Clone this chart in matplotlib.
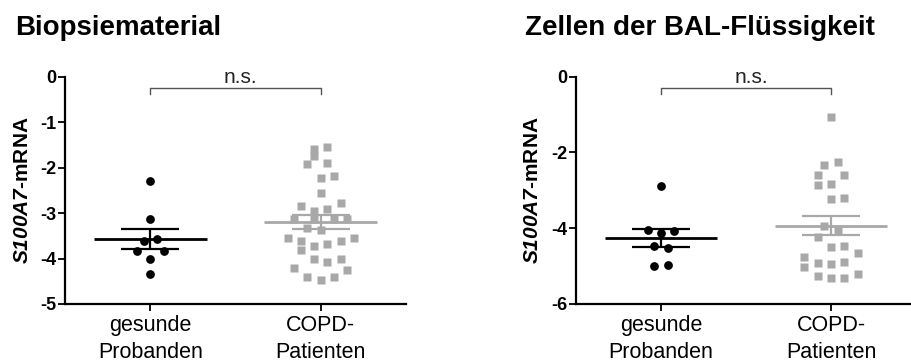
import numpy as np
import matplotlib
matplotlib.use("Agg")
import matplotlib.pyplot as plt

plt.rcParams.update({
    "font.family": "Liberation Sans",
    "axes.unicode_minus": False,
    "mathtext.fontset": "custom",
    "mathtext.rm": "Liberation Sans",
    "mathtext.it": "Liberation Sans:italic",
    "mathtext.bf": "Liberation Sans:bold",
    "mathtext.bfit": "Liberation Sans:italic:bold",
})

groups = ["gesunde\nProbanden", "COPD-\nPatienten"]
titles = ["Biopsiematerial", "Zellen der BAL-Flüssigkeit"]

# Biopsiematerial
bio_healthy = [-2.29, -3.13, -3.61, -3.56, -3.83, -3.83, -4.00, -4.33]
bio_healthy_col = [0, 0, -1, 1, -2, 2, 0, 0]
bio_copd = [-1.59, -1.74, -1.55, -1.93, -1.89, -2.22, -2.18, -2.55, -2.84, -2.78,
            -2.95, -2.90, -3.12, -3.12, -3.12, -3.12, -3.33, -3.37, -3.54, -3.61,
            -3.81, -3.72, -3.69, -3.61, -3.54, -4.02, -4.07, -4.01, -4.21, -4.25,
            -4.40, -4.40, -4.47]
bio_copd_col = [-1, -1, 1, -2, 1, 0, 2, 0, -3, 3,
                -1, 1, -4, -1, 2, 4, -2, 0, -5, -3,
                -3, -1, 1, 3, 5, -1, 1, 3, -4, 4,
                -2, 2, 0]

# BAL-Zellen
bal_healthy = [-2.88, -4.05, -4.12, -4.06, -4.47, -4.52, -5.00, -4.97]
bal_healthy_col = [0, -2, 0, 2, -1, 1, -1, 1]
bal_copd = [-1.07, -2.33, -2.24, -2.60, -2.86, -2.60, -2.82, -3.22, -3.20,
            -3.94, -4.07, -4.24, -4.50, -4.46, -4.66, -4.77, -5.03, -4.93,
            -4.94, -4.90, -5.25, -5.32, -5.31, -5.21]
bal_copd_col = [0, -1, 1, -2, -2, 2, 0, 0, 2,
                -1, 1, -2, 0, 2, 4, -4, -4, -2,
                0, 2, -2, 0, 2, 4]

panels = [
    dict(healthy=bio_healthy, hcol=bio_healthy_col, copd=bio_copd, ccol=bio_copd_col,
         ylim=(-5, 0), yticks=[0, -1, -2, -3, -4, -5], pos=[65/911, 57/361, 341/911, 227.3/361],
         title_x=15/911, ylab_x=-0.097, br_y=-0.24, br_leg=-0.39),
    dict(healthy=bal_healthy, hcol=bal_healthy_col, copd=bal_copd, ccol=bal_copd_col,
         ylim=(-6, 0), yticks=[0, -2, -4, -6], pos=[576/911, 57/361, 340/911, 227.3/361],
         title_x=525/911, ylab_x=-0.101, br_y=-0.29, br_leg=-0.46),
]

GRAY = "#a8a8a8"
STEP = 0.039

fig = plt.figure(figsize=(9.11, 3.61), dpi=100)

for p, title in zip(panels, titles):
    ax = fig.add_axes(p["pos"])
    for i, (vals, cols, color, marker, ms) in enumerate([
            (p["healthy"], p["hcol"], "black", "o", 6.3),
            (p["copd"], p["ccol"], GRAY, "s", 6.0)]):
        x0 = i + 1
        vals = np.array(vals)
        xs = x0 + np.array(cols) * STEP
        ax.plot(xs, vals, marker, color=color, ms=ms, mec="none", ls="none",
                clip_on=False, zorder=3)
        m = vals.mean()
        sem = vals.std(ddof=1) / np.sqrt(len(vals))
        ax.hlines(m, x0 - 0.33, x0 + 0.33, color=color, lw=2.0, zorder=4)
        ax.hlines([m - sem, m + sem], x0 - 0.17, x0 + 0.17, color=color, lw=1.6, zorder=4)
        ax.vlines(x0, m - sem, m + sem, color=color, lw=1.6, zorder=4)

    # significance bracket
    ax.plot([1, 1, 2, 2], [p["br_leg"], p["br_y"], p["br_y"], p["br_leg"]],
            color="#555555", lw=1.0, clip_on=False)
    ax.text(1.53, p["br_y"] + 0.02 * (p["ylim"][1] - p["ylim"][0]) / 5, "n.s.",
            ha="center", va="bottom", fontsize=15, color="#222222")

    ax.set_xlim(0.5, 2.5)
    ax.set_ylim(*p["ylim"])
    ax.set_yticks(p["yticks"])
    ax.set_xticks([1, 2])
    ax.set_xticklabels(groups, fontsize=15.5, linespacing=1.35)
    for lab in ax.get_yticklabels():
        lab.set_fontweight("bold")
        lab.set_fontsize(13)
    ax.tick_params(axis="y", length=5, width=1.3, pad=1.5)
    ax.tick_params(axis="x", length=5, width=1.3, pad=3)
    for s in ["top", "right"]:
        ax.spines[s].set_visible(False)
    for s in ["left", "bottom"]:
        ax.spines[s].set_linewidth(1.6)
    ax.set_ylabel(r"$\mathbfit{S100A7}$-mRNA", fontsize=15, fontweight="bold")
    ax.yaxis.set_label_coords(p["ylab_x"], 0.5)

    fig.text(p["title_x"], 1 - 35/361, title, fontsize=20, fontweight="bold",
             ha="left", va="baseline")

fig.savefig("out.png", dpi=100)
